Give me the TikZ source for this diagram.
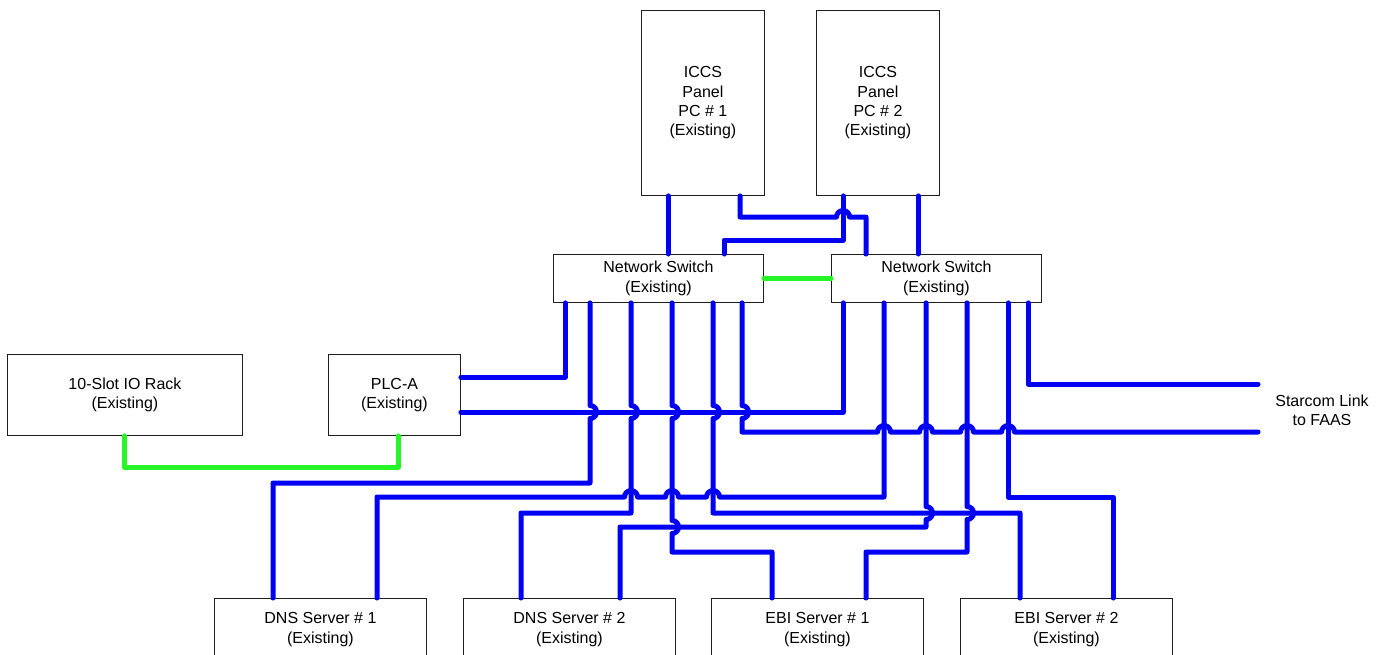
\documentclass[tikz,border=0pt]{standalone}
\usepackage{fontspec}
\setmainfont{Liberation Sans}
\usetikzlibrary{calc}
\definecolor{wireblue}{RGB}{0,0,245}
\definecolor{wiregreen}{RGB}{40,245,40}
\definecolor{boxline}{RGB}{30,30,30}
\begin{document}
\begin{tikzpicture}[x=1pt,y=-1pt,
  box/.style={draw=boxline, line width=0.9pt, rectangle, align=center, inner sep=0pt, anchor=north west, font=\fontsize{16}{19.3}\selectfont},
  lbl/.style={align=center, inner sep=0pt, font=\fontsize{16}{19.3}\selectfont},
  wire/.style={draw=wireblue, line width=5pt, line cap=round, line join=round},
  gwire/.style={draw=wiregreen, line width=5pt, line cap=round, line join=round}]
\useasboundingbox (0,0) rectangle (1385,654);

% boxes
\node[box, minimum width=123pt, minimum height=185pt] (pc1) at (641,10) {ICCS\\Panel\\PC \# 1\\(Existing)};
\node[box, minimum width=123pt, minimum height=185pt] (pc2) at (816,10) {ICCS\\Panel\\PC \# 2\\(Existing)};
\node[box, minimum width=210pt, minimum height=48pt] (sw1) at (553,254) {Network Switch\\(Existing)};
\node[box, minimum width=210pt, minimum height=48pt] (sw2) at (831,254) {Network Switch\\(Existing)};
\node[box, minimum width=235pt, minimum height=81pt] (io) at (7,354) {10-Slot IO Rack\\(Existing)};
\node[box, minimum width=132pt, minimum height=81pt] (plc) at (328,354) {PLC-A\\(Existing)};
\node[box, minimum width=212pt, minimum height=62pt] (dns1) at (214,598) {DNS Server \# 1\\(Existing)};
\node[box, minimum width=212pt, minimum height=62pt] (dns2) at (463,598) {DNS Server \# 2\\(Existing)};
\node[box, minimum width=212pt, minimum height=62pt] (ebi1) at (711,598) {EBI Server \# 1\\(Existing)};
\node[box, minimum width=212pt, minimum height=62pt] (ebi2) at (960,598) {EBI Server \# 2\\(Existing)};
\node[lbl] (star) at (1322,410) {Starcom Link\\to FAAS};

% ports
\coordinate (p1a) at ($(pc1.south west)+(27,0)$);
\coordinate (p1b) at ($(pc1.south west)+(99,0)$);
\coordinate (p2a) at ($(pc2.south west)+(27,0)$);
\coordinate (p2b) at ($(pc2.south west)+(102,0)$);
\coordinate (s1t1) at ($(sw1.north west)+(115,0)$);
\coordinate (s1t2) at ($(sw1.north west)+(171,0)$);
\coordinate (s2t1) at ($(sw2.north west)+(35,0)$);
\coordinate (s2t2) at ($(sw2.north west)+(87,0)$);
\coordinate (s1a) at ($(sw1.south west)+(12,0)$);
\coordinate (s1b) at ($(sw1.south west)+(37,0)$);
\coordinate (s1c) at ($(sw1.south west)+(78,0)$);
\coordinate (s1d) at ($(sw1.south west)+(119,0)$);
\coordinate (s1e) at ($(sw1.south west)+(160,0)$);
\coordinate (s1f) at ($(sw1.south west)+(189,0)$);
\coordinate (s2a) at ($(sw2.south west)+(12,0)$);
\coordinate (s2b) at ($(sw2.south west)+(53,0)$);
\coordinate (s2c) at ($(sw2.south west)+(95,0)$);
\coordinate (s2d) at ($(sw2.south west)+(136,0)$);
\coordinate (s2e) at ($(sw2.south west)+(177,0)$);
\coordinate (s2f) at ($(sw2.south west)+(197,0)$);
\coordinate (plu) at ($(plc.north east)+(0,23)$);
\coordinate (pll) at ($(plc.north east)+(0,58)$);
\coordinate (plb) at ($(plc.south west)+(70,0)$);
\coordinate (iob) at ($(io.south west)+(117,0)$);
\coordinate (d1a) at ($(dns1.north west)+(59,0)$);
\coordinate (d1b) at ($(dns1.north west)+(163,0)$);
\coordinate (d2a) at ($(dns2.north west)+(58,0)$);
\coordinate (d2b) at ($(dns2.north west)+(157,0)$);
\coordinate (e1a) at ($(ebi1.north west)+(61,0)$);
\coordinate (e1b) at ($(ebi1.north west)+(155,0)$);
\coordinate (e2a) at ($(ebi2.north west)+(60,0)$);
\coordinate (e2b) at ($(ebi2.north west)+(153,0)$);
\coordinate (st1) at (1258,384);
\coordinate (st2) at (1258,432);

% green links
\draw[gwire] (sw1.east) -- (sw2.west);
\draw[gwire] (iob) -- (124,467) -- (398,467) -- (plb);

% top links
\draw[wire] (p1a) -- (s1t1);
\draw[wire] (p2b) -- (s2t2);
\draw[wire] (p1b) -- (740,217) -- (836.5,217) arc(180:360:6.5) -- (866,217) -- (s2t1);
\draw[wire] (p2a) -- (843,240) -- (724,240) -- (s1t2);

% PLC links
\draw[wire] (plu) -| (s1a);
\draw[wire] (pll) -| (s2a);

% Starcom links
\draw[wire] (s2f) |- (st1);
\draw[wire] (s1f) -- (742,405.5) arc(-90:90:6.5) -- (742,432)
  -- (877.5,432) arc(180:360:6.5) -- (919.5,432) arc(180:360:6.5)
  -- (960.5,432) arc(180:360:6.5) -- (1001.5,432) arc(180:360:6.5) -- (st2);

% servers
\draw[wire] (s1b) -- (590,405.5) arc(-90:90:6.5) -- (590,483) -| (d1a);
\draw[wire] (d1b) -- (377,497) -- (624.5,497) arc(180:360:6.5)
  -- (665.5,497) arc(180:360:6.5) -- (706.5,497) arc(180:360:6.5) -- (884,497) -- (s2b);
\draw[wire] (s1c) -- (631,405.5) arc(-90:90:6.5) -- (631,513) -| (d2a);
\draw[wire] (d2b) -- (620,527) -- (926,527) -- (926,519.5) arc(90:-90:6.5) -- (s2c);
\draw[wire] (s1d) -- (672,405.5) arc(-90:90:6.5) -- (672,520.5) arc(-90:90:6.5) -- (672,552) -| (e1a);
\draw[wire] (s2d) -- (967,506.5) arc(-90:90:6.5) -- (967,552) -| (e1b);
\draw[wire] (s1e) -- (713,405.5) arc(-90:90:6.5) -- (713,513) -| (e2a);
\draw[wire] (s2e) -- (1008,497) -| (e2b);
\end{tikzpicture}
\end{document}
